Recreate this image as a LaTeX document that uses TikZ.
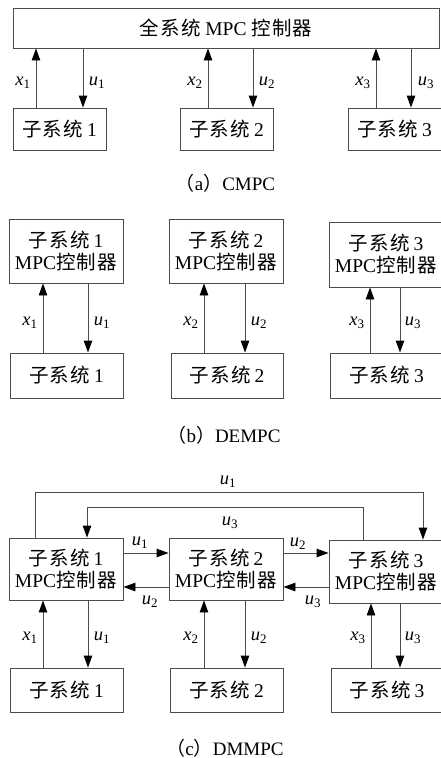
\documentclass[tikz,border=0pt]{standalone}
\usepackage{fontspec}
\setmainfont{Liberation Serif}
\newfontfamily\cjk[LetterSpace=6]{Noto Sans CJK SC}
\usetikzlibrary{arrows.meta}
\newcommand\zh[1]{{\cjk #1}}
\newcommand\sub[1]{\zh{子系统}\kern4pt#1}
\newcommand\sig[2]{\textit{#1}\textsubscript{#2}}

\tikzset{
  blk/.style={draw=black!70, line width=0.9pt, inner sep=0pt, align=center,
    font=\fontsize{19.5}{22}\selectfont},
  link/.style={draw=black!70, line width=0.9pt,
    -{Triangle[length=12pt,width=8.5pt,color=black]}},
  lab/.style={font=\fontsize{18.5}{18.5}\selectfont, inner sep=0pt},
  figcap/.style={font=\fontsize{19}{19}\selectfont, inner sep=0pt},
}

\begin{document}
\begin{tikzpicture}[x=1pt,y=-1pt]
\useasboundingbox (0,0) rectangle (440,758);
\fill[white] (0,0) rectangle (440,758);

% ---------- (a) centralised MPC ----------
\node[blk, minimum width=426pt, minimum height=40pt] (A) at (226,28) {\zh{全系统} MPC \zh{控制器}};
\node[blk, minimum width=93pt, minimum height=42pt] (aP1) at (59.5,129) {\sub{1}};
\node[blk, minimum width=93pt, minimum height=42pt] (aP2) at (226.5,129) {\sub{2}};
\node[blk, minimum width=93pt, minimum height=42pt] (aP3) at (394.5,129) {\sub{3}};

\coordinate (ax1) at (36,0);  \coordinate (au1) at (83,0);
\coordinate (ax2) at (208,0); \coordinate (au2) at (253,0);
\coordinate (ax3) at (376,0); \coordinate (au3) at (411,0);
\draw[link] (aP1.north -| ax1) -- (A.south -| ax1);
\draw[link] (A.south -| au1) -- (aP1.north -| au1);
\draw[link] (aP2.north -| ax2) -- (A.south -| ax2);
\draw[link] (A.south -| au2) -- (aP2.north -| au2);
\draw[link] (aP3.north -| ax3) -- (A.south -| ax3);
\draw[link] (A.south -| au3) -- (aP3.north -| au3);

\node[lab] (ta1) at (23,83) {\sig{x}{1}};
\node[lab] (tb1) at (97,83) {\sig{u}{1}};
\node[lab] (ta2) at (195,83) {\sig{x}{2}};
\node[lab] (tb2) at (267,83) {\sig{u}{2}};
\node[lab] (ta3) at (363,83) {\sig{x}{3}};
\node[lab] (tb3) at (426,83) {\sig{u}{3}};

\node[figcap] (capA) at (225.5,183) {\zh{（}a\zh{）}CMPC};

% ---------- (b) decentralised MPC ----------
\node[blk, minimum width=114pt, minimum height=64pt] (bC1) at (66,251) {\sub{1}\\MPC\zh{控制器}};
\node[blk, minimum width=114pt, minimum height=64pt] (bC2) at (226,251) {\sub{2}\\MPC\zh{控制器}};
\node[blk, minimum width=114pt, minimum height=65pt] (bC3) at (386,254.5) {\sub{3}\\MPC\zh{控制器}};
\node[blk, minimum width=113pt, minimum height=45pt] (bP1) at (66.5,375.5) {\sub{1}};
\node[blk, minimum width=112pt, minimum height=45pt] (bP2) at (227,375.5) {\sub{2}};
\node[blk, minimum width=113pt, minimum height=45pt] (bP3) at (386.5,375.5) {\sub{3}};

\coordinate (bx1) at (43,0);  \coordinate (bu1) at (88,0);
\coordinate (bx2) at (204,0); \coordinate (bu2) at (245,0);
\coordinate (bx3) at (370,0); \coordinate (bu3) at (400,0);
\draw[link] (bP1.north -| bx1) -- (bC1.south -| bx1);
\draw[link] (bC1.south -| bu1) -- (bP1.north -| bu1);
\draw[link] (bP2.north -| bx2) -- (bC2.south -| bx2);
\draw[link] (bC2.south -| bu2) -- (bP2.north -| bu2);
\draw[link] (bP3.north -| bx3) -- (bC3.south -| bx3);
\draw[link] (bC3.south -| bu3) -- (bP3.north -| bu3);

\node[lab] (tc1) at (30,323) {\sig{x}{1}};
\node[lab] (td1) at (102,323) {\sig{u}{1}};
\node[lab] (tc2) at (191,323) {\sig{x}{2}};
\node[lab] (td2) at (259,323) {\sig{u}{2}};
\node[lab] (tc3) at (357,323) {\sig{x}{3}};
\node[lab] (td3) at (413,323) {\sig{u}{3}};

\node[figcap] (capB) at (224,435) {\zh{（}b\zh{）}DEMPC};

% ---------- (c) distributed MPC ----------
\node[blk, minimum width=114pt, minimum height=62pt] (cC1) at (66,569) {\sub{1}\\MPC\zh{控制器}};
\node[blk, minimum width=114pt, minimum height=62pt] (cC2) at (226,569) {\sub{2}\\MPC\zh{控制器}};
\node[blk, minimum width=114pt, minimum height=63pt] (cC3) at (386,571.5) {\sub{3}\\MPC\zh{控制器}};
\node[blk, minimum width=113pt, minimum height=44pt] (cP1) at (66.5,690) {\sub{1}};
\node[blk, minimum width=113pt, minimum height=44pt] (cP2) at (226.5,690) {\sub{2}};
\node[blk, minimum width=112pt, minimum height=44pt] (cP3) at (387,690) {\sub{3}};

\coordinate (cx1) at (43,0);  \coordinate (cu1) at (88,0);
\coordinate (cx2) at (204,0); \coordinate (cu2) at (245,0);
\coordinate (cx3) at (371,0); \coordinate (cu3) at (400,0);
\draw[link] (cP1.north -| cx1) -- (cC1.south -| cx1);
\draw[link] (cC1.south -| cu1) -- (cP1.north -| cu1);
\draw[link] (cP2.north -| cx2) -- (cC2.south -| cx2);
\draw[link] (cC2.south -| cu2) -- (cP2.north -| cu2);
\draw[link] (cP3.north -| cx3) -- (cC3.south -| cx3);
\draw[link] (cC3.south -| cu3) -- (cP3.north -| cu3);

\node[lab] (te1) at (30,638) {\sig{x}{1}};
\node[lab] (tf1) at (102,638) {\sig{u}{1}};
\node[lab] (te2) at (191,638) {\sig{x}{2}};
\node[lab] (tf2) at (259,638) {\sig{u}{2}};
\node[lab] (te3) at (358,638) {\sig{x}{3}};
\node[lab] (tf3) at (413,638) {\sig{u}{3}};

% exchange between neighbouring controllers
\coordinate (hU) at (0,553); \coordinate (hL) at (0,587);
\draw[link] (cC1.east |- hU) -- (cC2.west |- hU);
\draw[link] (cC2.east |- hU) -- (cC3.west |- hU);
\draw[link] (cC2.west |- hL) -- (cC1.east |- hL);
\draw[link] (cC3.west |- hL) -- (cC2.east |- hL);
\node[lab] (tg1) at (140,543) {\sig{u}{1}};
\node[lab] (tg2) at (298,544) {\sig{u}{2}};
\node[lab] (th2) at (150,602) {\sig{u}{2}};
\node[lab] (th3) at (313,602) {\sig{u}{3}};

% long links between controllers 1 and 3
\coordinate (oL) at (35,492);  \coordinate (oR) at (423,492);
\coordinate (iL) at (87,507);  \coordinate (iR) at (363,507);
\draw[link] (cC1.north -| oL) -- (oL) -- (oR) -- (cC3.north -| oR);
\draw[link] (cC3.north -| iR) -- (iR) -- (iL) -- (cC1.north -| iL);
\node[lab] (to1) at (228,482) {\sig{u}{1}};
\node[lab] (ti3) at (230,523) {\sig{u}{3}};

\node[figcap] (capC) at (225,748) {\zh{（}c\zh{）}DMMPC};
\end{tikzpicture}
\end{document}
